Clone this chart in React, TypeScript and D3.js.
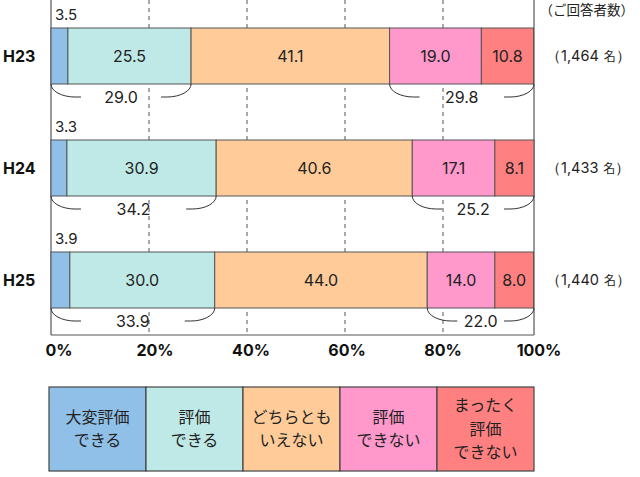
import React from "react";
import * as d3 from "d3";

const years = ["H23", "H24", "H25"];
const veryGood = [3.5, 3.3, 3.9];
const good = [25.5, 30.9, 30.0];
const neutral = [41.1, 40.6, 44.0];
const bad = [19.0, 17.1, 14.0];
const veryBad = [10.8, 8.1, 8.0];
const positiveTotals = [29.0, 34.2, 33.9];
const negativeTotals = [29.8, 25.2, 22.0];
const respondents = ["1,464", "1,433", "1,440"];
const ticks = [0, 20, 40, 60, 80, 100];
const gridTicks = [20, 40, 60, 80];
const legendLabels = [
  ["大変評価", "できる"],
  ["評価", "できる"],
  ["どちらとも", "いえない"],
  ["評価", "できない"],
  ["まったく", "評価", "できない"],
];
const colors = ["#90c0e8", "#bfe9e6", "#ffcc99", "#ff99cc", "#ff8080"];

const NUM_FONT = "Inter, 'Noto Sans', sans-serif";
const JP_FONT = "'Noto Sans CJK JP', sans-serif";

export default function App() {
  const W = 640, H = 477;
  const x = d3.scaleLinear().domain([0, 100]).range([51, 534]);
  const gx = d3.scaleLinear().domain([0, 100]).range([51, 541]);
  const lx = d3.scaleLinear().domain([0, 100]).range([59, 539]);
  const y = d3.scaleBand().domain(years).range([0, 336]).paddingInner(0.5).paddingOuter(0.25);
  const bw = y.bandwidth();
  const axisBottom = 335;

  const series = [veryGood, good, neutral, bad, veryBad];
  const legendX = d3.scaleBand().domain(legendLabels.map((_, i) => String(i))).range([49, 534]);

  const bracket = (x0: number, x1: number, yb: number, label: string, key: string) => {
    const ry = 13;
    const rx = 24;
    const mid = (x0 + x1) / 2;
    const half = 17;
    const leftEnd = Math.max(x0 + rx, Math.min(x0 + 30, mid - half - 6));
    const rightStart = Math.min(x1 - rx, Math.max(x1 - 30, mid + half + 6));
    const yl = yb + ry;
    const p = `M${x0},${yb} A${rx},${ry} 0 0 0 ${x0 + rx},${yl} L${leftEnd},${yl} M${rightStart},${yl} L${x1 - rx},${yl} A${rx},${ry} 0 0 0 ${x1},${yb}`;
    return (
      <g key={key}>
        <path d={p} fill="none" stroke="#333" strokeWidth={1} />
        <text x={mid} y={yl} dy="0.35em" textAnchor="middle" fontSize={16} fontFamily={NUM_FONT} fill="#222">
          {label}
        </text>
      </g>
    );
  };

  return (
    <svg width={W} height={H} style={{ position: "absolute", left: 0, top: 0, background: "#fff" }}>
      <rect x={0} y={0} width={W} height={H} fill="#fff" />
      {gridTicks.map((t) => (
        <line key={t} x1={gx(t)} x2={gx(t)} y1={0} y2={axisBottom} stroke="#555" strokeWidth={1} strokeDasharray="4,4" />
      ))}
      <line x1={x(0)} x2={x(0)} y1={0} y2={axisBottom} stroke="#555" strokeWidth={1.2} />
      <line x1={x(100)} x2={x(100)} y1={0} y2={axisBottom} stroke="#555" strokeWidth={1.2} />
      <line x1={x(0)} x2={x(100)} y1={axisBottom} y2={axisBottom} stroke="#555" strokeWidth={1.2} />

      <text x={634} y={10} dy="0.35em" textAnchor="end" fontSize={13.5} fontFamily={JP_FONT} fill="#222">（ご回答者数）</text>

      {years.map((yr, i) => {
        const top = y(yr) as number;
        let cum = 0;
        const segs = series.map((s, k) => {
          const start = cum;
          cum += s[i];
          return { k, start, end: cum, v: s[i] };
        });
        const cy = top + bw / 2;
        const posEnd = veryGood[i] + good[i];
        const negStart = cum - bad[i] - veryBad[i];
        return (
          <g key={yr}>
            <text x={3} y={cy} dy="0.35em" fontSize={16} fontWeight={700} fontFamily={NUM_FONT} fill="#111">{yr}</text>
            {segs.map((sg) => (
              <rect key={sg.k} x={x(sg.start)} y={top} width={x(sg.end) - x(sg.start)} height={bw} fill={colors[sg.k]} stroke="#555" strokeWidth={1} />
            ))}
            {segs.map((sg) =>
              sg.k === 0 ? (
                <text key={"l" + sg.k} x={55} y={top - 13} dy="0.35em" fontSize={15} fontFamily={NUM_FONT} fill="#222">{sg.v.toFixed(1)}</text>
              ) : (
                <text key={"l" + sg.k} x={(x(sg.start) + x(sg.end)) / 2} y={cy} dy="0.35em" textAnchor="middle" fontSize={16} fontFamily={NUM_FONT} fill="#222">{sg.v.toFixed(1)}</text>
              )
            )}
            {bracket(x(0), x(posEnd), top + bw, positiveTotals[i].toFixed(1), "p")}
            {bracket(x(negStart), x(100), top + bw, negativeTotals[i].toFixed(1), "n")}
            <text x={546} y={cy} dy="0.35em" fontSize={14.5} fontFamily={NUM_FONT} fill="#222">
              （{respondents[i]}
              <tspan fontSize={12} fontFamily={JP_FONT} dx={5}>名</tspan>
              ）
            </text>
          </g>
        );
      })}

      {ticks.map((t) => (
        <text key={t} x={lx(t)} y={350} dy="0.35em" textAnchor="middle" fontSize={16} fontWeight={700} fontFamily={NUM_FONT} fill="#111">{t}%</text>
      ))}

      {legendLabels.map((lines, i) => {
        const lx0 = legendX(String(i)) as number;
        const lw = legendX.bandwidth();
        const cy = 429;
        const lh = 23.5;
        return (
          <g key={i}>
            <rect x={lx0} y={387} width={lw} height={84} fill={colors[i]} stroke="#444" strokeWidth={1.2} />
            {lines.map((ln, j) => (
              <text key={j} x={lx0 + lw / 2} y={cy + (j - (lines.length - 1) / 2) * lh} dy="0.35em" textAnchor="middle" fontSize={16} fontFamily={JP_FONT} fill="#222">{ln}</text>
            ))}
          </g>
        );
      })}
    </svg>
  );
}
